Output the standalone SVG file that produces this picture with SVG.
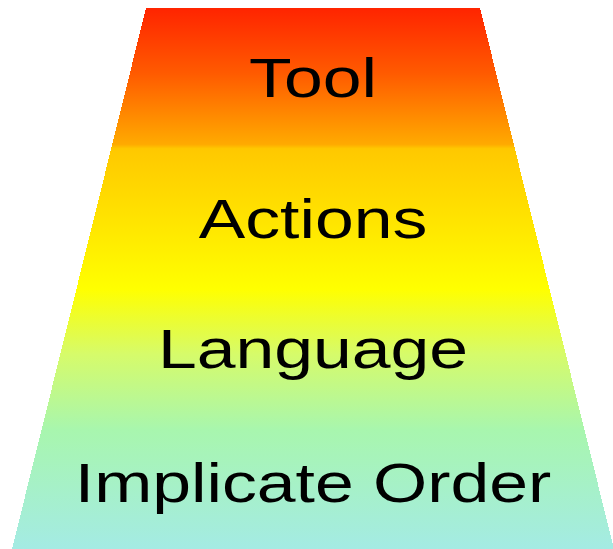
<svg xmlns="http://www.w3.org/2000/svg" width="613" height="549" viewBox="0 0 613 549">
  <defs>
    <linearGradient id="band" x1="0" y1="8" x2="0" y2="549" gradientUnits="userSpaceOnUse">
      <stop offset="0" stop-color="#ff2400"/>
      <stop offset="0.12" stop-color="#ff5a00"/>
      <stop offset="0.252" stop-color="#ffaa00"/>
      <stop offset="0.26" stop-color="#ffc800"/>
      <stop offset="0.52" stop-color="#ffff00"/>
      <stop offset="0.64" stop-color="#d6fb6a"/>
      <stop offset="0.78" stop-color="#a8f6ae"/>
      <stop offset="1" stop-color="#a4ebe4"/>
    </linearGradient>
    <style>
      .lbl { font-family: "Liberation Sans", Arial, sans-serif; font-size: 56px; fill: #000; text-anchor: middle; }
    </style>
  </defs>
  <rect width="613" height="549" fill="#fff"/>
  <g id="pyramid">
    <polygon points="146,8 480,8 614,549 12,549" fill="url(#band)" shape-rendering="crispEdges"/>
  </g>
  <g id="tool">
    <text class="lbl" transform="translate(313,97.3) scale(1.245,1)">Tool</text>
  </g>
  <g id="actions">
    <text class="lbl" transform="translate(313,238.3) scale(1.245,1)">Actions</text>
  </g>
  <g id="language">
    <text class="lbl" transform="translate(313,368.3) scale(1.245,1)">Language</text>
  </g>
  <g id="implicate-order">
    <text class="lbl" transform="translate(313,501.7) scale(1.245,1)">Implicate Order</text>
  </g>
</svg>
